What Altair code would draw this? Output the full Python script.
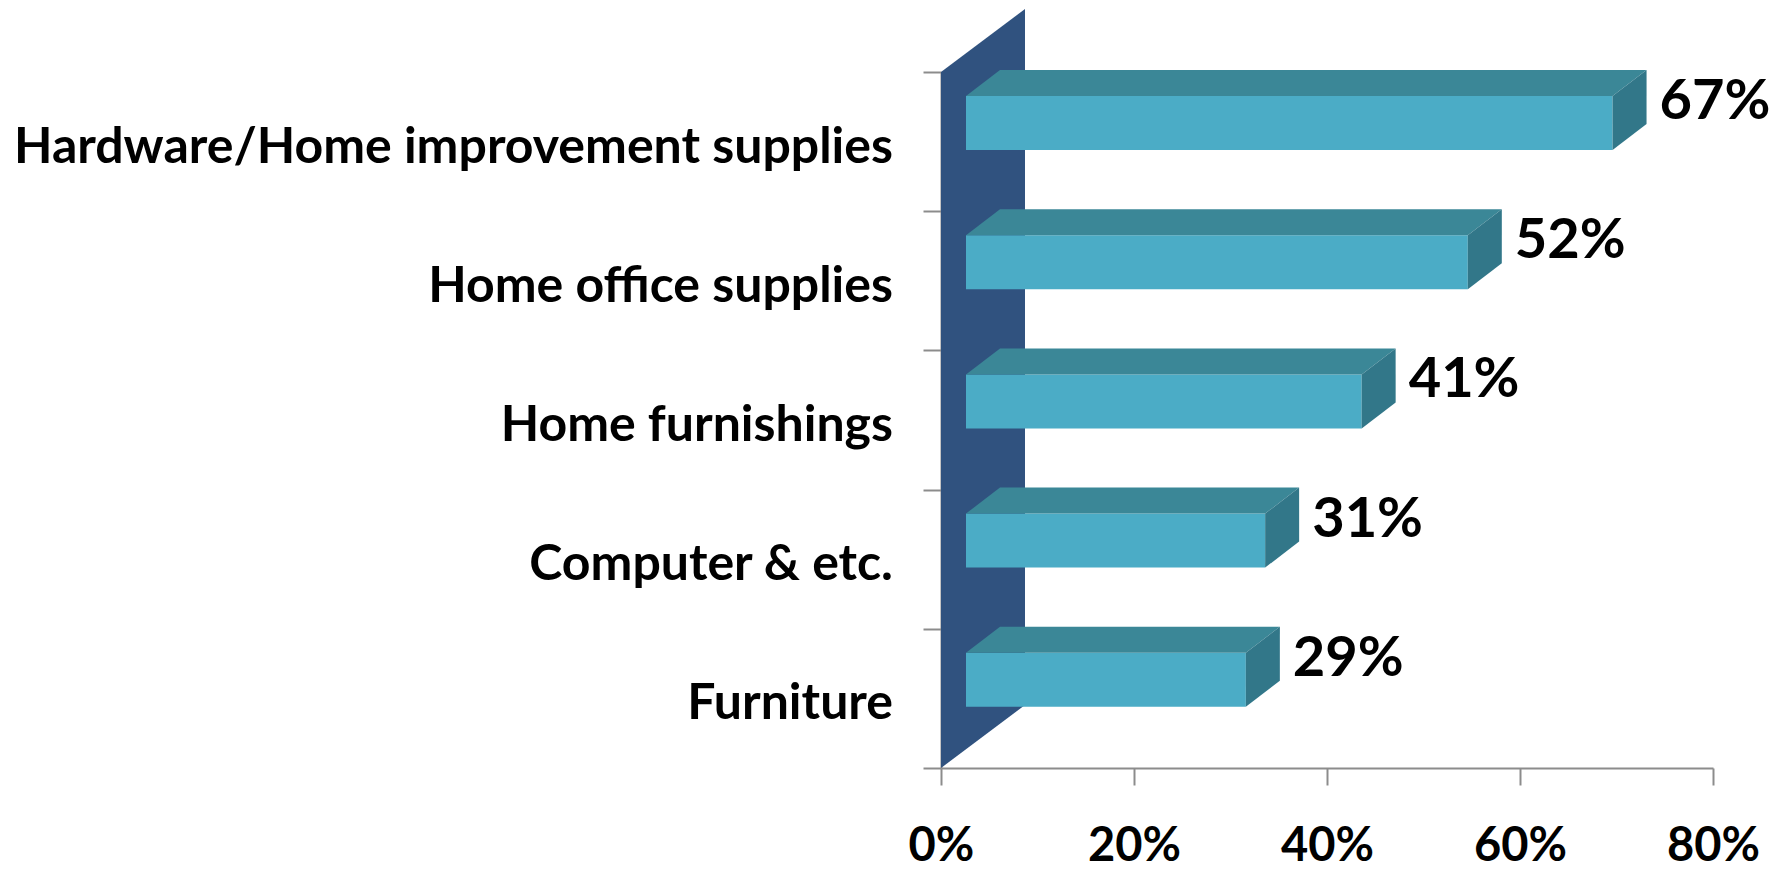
import altair as alt
import pandas as pd

# ---------------- data ----------------
categories = [
    "Hardware/Home improvement supplies",
    "Home office supplies",
    "Home furnishings",
    "Computer & etc.",
    "Furniture",
]
values = [67, 52, 41, 31, 29]
x_ticks = [0, 20, 40, 60, 80]

# ---------------- layout / style ----------------
W, H = 772, 696
X_MAX = 80
N = len(categories)
PX = X_MAX / W   # data units per pixel (x)
PY = N / H       # data units per pixel (y)

FRONT_SHIFT = 25            # front face shift right of axis (px)
DEPTH_X, DEPTH_Y = 34, 26   # bar depth projection (px)
FRONT_TOP, FRONT_BOTTOM = 24, 78   # front face, px below band top
WALL_X, WALL_Y = 84, 63     # back wall depth projection (px)

FONT = "Lato"
C_FRONT = "#4BACC6"
C_TOP = "#3B8797"
C_SIDE = "#327789"
C_WALL = "#30527F"
C_AXIS = "#8C8C8C"

front_rows, top_rows, side_rows, lab_rows, cat_rows = [], [], [], [], []
for i, (c, v) in enumerate(zip(categories, values)):
    T = N - i
    x0 = FRONT_SHIFT * PX
    x1 = v + FRONT_SHIFT * PX
    yt = T - FRONT_TOP * PY
    yb = T - FRONT_BOTTOM * PY
    front_rows.append(dict(cat=c, x0=x0, x1=x1, y0=yb, y1=yt))
    top_rows.append(dict(cat=c, y=yt, xa=x0, xb=x1))
    top_rows.append(dict(cat=c, y=yt + DEPTH_Y * PY, xa=x0 + DEPTH_X * PX, xb=x1 + DEPTH_X * PX))
    side_rows.append(dict(cat=c, x=x1, ya=yb, yb=yt))
    side_rows.append(dict(cat=c, x=x1 + DEPTH_X * PX, ya=yb + DEPTH_Y * PY, yb=yt + DEPTH_Y * PY))
    lab_rows.append(dict(cat=c, x=x1 + DEPTH_X * PX, y=T - 30 * PY, label=f"{v}%"))
    cat_rows.append(dict(cat=c, x=0, y=T - 0.5))

wall_rows = [
    dict(x=0, ya=0, yb=N),
    dict(x=WALL_X * PX, ya=WALL_Y * PY, yb=N + WALL_Y * PY),
]

front_df = pd.DataFrame(front_rows)
top_df = pd.DataFrame(top_rows)
side_df = pd.DataFrame(side_rows)
lab_df = pd.DataFrame(lab_rows)
cat_df = pd.DataFrame(cat_rows)
wall_df = pd.DataFrame(wall_rows)

xs = alt.Scale(domain=[0, X_MAX], nice=False, zero=False)
ys = alt.Scale(domain=[0, N], nice=False, zero=False)

x_axis = alt.Axis(
    values=x_ticks, labelExpr="datum.value + '%'", title=None, grid=False,
    labelFont=FONT, labelFontSize=47, labelFontWeight="bold", labelColor="black",
    labelPadding=38, tickSize=17, tickColor=C_AXIS, tickWidth=2,
    domainColor=C_AXIS, domainWidth=2, labelFlush=False, zindex=1,
)
y_axis = alt.Axis(
    values=list(range(N + 1)), labels=False, title=None, grid=False,
    tickSize=18, tickColor=C_AXIS, tickWidth=2, domainColor=C_AXIS, domainWidth=2,
    zindex=0,
)


def X(field, **kw):
    return alt.X(field, scale=xs, axis=x_axis, **kw)


def Y(field, **kw):
    return alt.Y(field, scale=ys, axis=y_axis, **kw)


wall = alt.Chart(wall_df).mark_area(orient="vertical", color=C_WALL).encode(
    x=X("x:Q"),
    y=Y("ya:Q", stack=None),
    y2="yb:Q",
)

front = alt.Chart(front_df).mark_rect(color=C_FRONT).encode(
    x=X("x0:Q"),
    x2="x1:Q",
    y=Y("y0:Q"),
    y2="y1:Q",
)

top = alt.Chart(top_df).mark_area(orient="horizontal", color=C_TOP).encode(
    y=Y("y:Q"),
    x=X("xa:Q", stack=None),
    x2="xb:Q",
    detail="cat:N",
)

side = alt.Chart(side_df).mark_area(orient="vertical", color=C_SIDE).encode(
    x=X("x:Q"),
    y=Y("ya:Q", stack=None),
    y2="yb:Q",
    detail="cat:N",
)

value_labels = alt.Chart(lab_df).mark_text(
    align="left", baseline="middle", dx=13, font=FONT, fontSize=56,
    fontWeight="bold", color="black",
).encode(
    x=X("x:Q"),
    y=Y("y:Q"),
    text="label:N",
)

cat_labels = alt.Chart(cat_df).mark_text(
    align="right", baseline="middle", dx=-48, dy=6, font=FONT, fontSize=50,
    fontWeight="bold", color="black",
).encode(
    x=X("x:Q"),
    y=Y("y:Q"),
    text="cat:N",
)

chart = alt.layer(wall, front, top, side, value_labels, cat_labels).properties(
    width=W, height=H,
    autosize=alt.AutoSizeParams(type="none"),
    padding={"left": 933, "top": 64, "right": 60, "bottom": 105},
    background="white",
).configure_view(stroke=None)

chart.save("out.html", embed_options={"renderer": "svg", "actions": False})
